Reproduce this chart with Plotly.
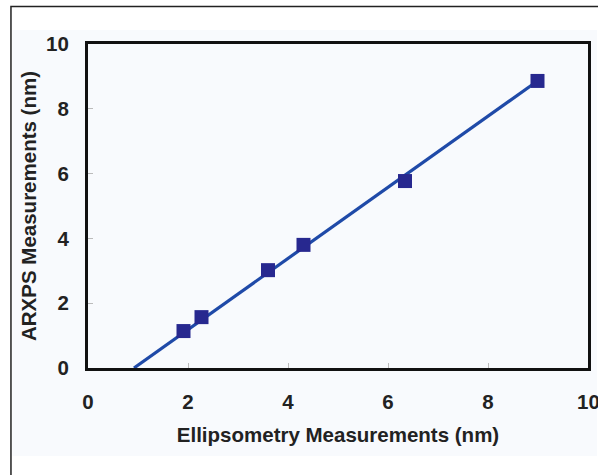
import plotly.graph_objects as go

ellipsometry = [1.91, 2.27, 3.60, 4.31, 6.34, 8.99]
arxps = [1.14, 1.57, 3.02, 3.80, 5.77, 8.86]
fit_x = [0.92, 8.99]
fit_y = [0.0, 8.86]
x_ticks = [0, 2, 4, 6, 8, 10]
y_ticks = [0, 2, 4, 6, 8, 10]

W, H = 598, 475
L, R, T, B = 88, 7, 44, 107
pw, ph = W - L - R, H - T - B
FS = 20.5

def px(xp):
    return (xp - L) / pw

def py(yp):
    return (H - B - yp) / ph

tickfont = dict(family="Liberation Sans, Arial", size=FS, color="#222222", weight="bold")

fig = go.Figure()
fig.add_trace(go.Scatter(x=fit_x, y=fit_y, mode="lines",
                         line=dict(color="#1f4aa8", width=3.2), showlegend=False))
fig.add_trace(go.Scatter(x=ellipsometry, y=arxps, mode="markers",
                         marker=dict(symbol="square", size=14, color="#27288f",
                                     line=dict(width=0)), showlegend=False))

fig.update_layout(
    width=W, height=H,
    margin=dict(l=L, r=R, t=T, b=B),
    paper_bgcolor="white",
    plot_bgcolor="#fafbfd",
    font=dict(family="Liberation Sans, Arial, sans-serif", size=FS, color="#222222"),
    xaxis=dict(range=[0, 10], tickvals=x_ticks, ticktext=[str(v) for v in x_ticks],
               showgrid=False, zeroline=False, showline=True, linecolor="#111111",
               linewidth=3, mirror=True, ticks="inside", ticklen=5, tickcolor="#bbbbbb",
               tickwidth=1, ticklabelstandoff=13, tickfont=tickfont,
               title=dict(text="<b>Ellipsometry Measurements (nm)</b>", standoff=17,
                          font=dict(family="Liberation Sans, Arial", size=FS, color="#222222"))),
    yaxis=dict(range=[0, 10], tickvals=y_ticks, ticktext=[str(v) for v in y_ticks],
               showgrid=False, zeroline=False, showline=True, linecolor="#111111",
               linewidth=3, mirror=True, ticks="inside", ticklen=5, tickcolor="#bbbbbb",
               tickwidth=1, ticklabelstandoff=12, tickfont=tickfont,
               title=dict(text="<b>ARXPS Measurements (nm)</b>", standoff=4,
                          font=dict(family="Liberation Sans, Arial", size=FS, color="#222222"))),
    annotations=[
        dict(text="<b>10</b>", x=x_ticks[-1], xref="x", y=py(401), yref="paper",
             showarrow=False, xanchor="center", yanchor="middle",
             font=tickfont),
    ],
    shapes=[
        dict(type="rect", xref="paper", yref="paper", layer="below",
             x0=px(12), x1=px(600), y0=py(456), y1=py(30),
             fillcolor="#f8fafd", line=dict(width=0)),
        dict(type="rect", xref="paper", yref="paper", layer="above",
             x0=px(10.5), x1=px(620), y0=py(490), y1=py(6.5),
             fillcolor="rgba(0,0,0,0)", line=dict(color="#222222", width=1.5)),
    ],
)

fig.write_html("out.html")
